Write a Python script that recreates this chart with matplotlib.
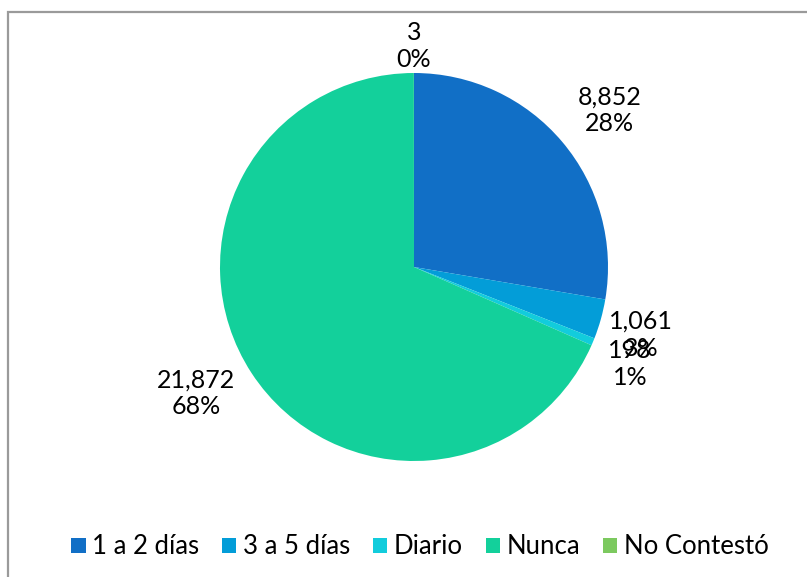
import matplotlib
matplotlib.use("Agg")
import matplotlib.pyplot as plt
from matplotlib.patches import Rectangle, Patch
import numpy as np

categories = ["1 a 2 días", "3 a 5 días", "Diario", "Nunca", "No Contestó"]
values = [8852, 1061, 198, 21872, 3]
percent_labels = ["28%", "3%", "1%", "68%", "0%"]
colors = ["#116FC6", "#039DD8", "#12CCDC", "#13D09B", "#7CC95F"]

plt.rcParams['font.family'] = ['Lato', 'DejaVu Sans']

W, H = 807, 577
fig = plt.figure(figsize=(W / 100, H / 100), dpi=100)
ax = fig.add_axes([0, 0, 1, 1])

cx, cy, R = 414, H - 267, 194
wedges, _ = ax.pie(values, colors=colors, startangle=90, counterclock=False,
                   center=(cx, cy), radius=R, frame=True,
                   wedgeprops=dict(linewidth=0))
ax.set_xlim(0, W)
ax.set_ylim(0, H)
ax.set_aspect("equal")
ax.axis("off")

# label placement: (distance factor, angle tweak in degrees)
label_pos = [(1.29, -1.5), (1.22, -1.0), (1.22, -1.5), (1.30, -3.0), (1.14, 0.0)]
for w, v, p, (d, tw) in zip(wedges, values, percent_labels, label_pos):
    mid = np.deg2rad((w.theta1 + w.theta2) / 2 + tw)
    x = cx + d * R * np.cos(mid)
    y = cy + d * R * np.sin(mid)
    ax.text(x, y, f"{v:,}\n{p}", ha="center", va="center", fontsize=18,
            color="black", linespacing=1.2)

# frame
fig.patches.append(Rectangle((8 / W, -0.05), 1.1, (H - 11.5) / H + 0.05,
                             transform=fig.transFigure, fill=False,
                             edgecolor="#9a9a9a", linewidth=1.6))

handles = [Patch(facecolor=c, edgecolor="none") for c in colors]
fig.legend(handles, categories, loc="center", bbox_to_anchor=(420 / W, 1 - 547 / H),
           ncol=5, frameon=False, fontsize=18.5, handlelength=0.55, handleheight=0.55,
           handletextpad=0.25, columnspacing=0.9)

fig.savefig("out.png", dpi=100)
